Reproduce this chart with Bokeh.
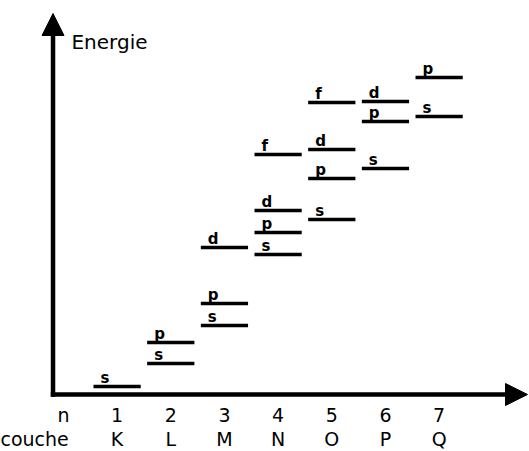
from bokeh.plotting import figure
from bokeh.models import ColumnDataSource, Arrow, NormalHead, Range1d
from bokeh.core.properties import value
from bokeh.embed import file_html
from bokeh.resources import INLINE

# ---- data -------------------------------------------------------------
level_n = [1, 2, 2, 3, 3, 3, 4, 4, 4, 4, 5, 5, 5, 5, 6, 6, 6, 7, 7]
level_l = ["s", "s", "p", "s", "p", "d", "s", "p", "d", "f",
           "s", "p", "d", "f", "s", "p", "d", "s", "p"]
level_E = [8, 31, 52, 69, 91, 147, 140, 162, 184, 240,
           175, 216, 245, 292, 226, 273, 293, 278, 317]

tick_pos = [0, 1, 2, 3, 4, 5, 6, 7]
n_labels = ["n", "1", "2", "3", "4", "5", "6", "7"]
shell_pos = [1, 2, 3, 4, 5, 6, 7]
shell_labels = ["K", "L", "M", "N", "O", "P", "Q"]

# ---- layout constants --------------------------------------------------
HALF = 0.44           # half width of a level bar (in shell units)
X0, X1 = -1.1726, 8.684
Y0, Y1 = -57, 394
AX_X = -0.194         # position of vertical axis
ROW_N = -20.3         # centre of n row
ROW_C = -44.7         # centre of couche row
FONT = "DejaVu Sans"

p = figure(width=529, height=451, output_backend="svg", toolbar_location=None,
           x_axis_type=None, y_axis_type=None,
           x_range=Range1d(X0, X1), y_range=Range1d(Y0, Y1),
           min_border=0, min_border_left=0, min_border_right=0,
           min_border_top=0, min_border_bottom=0)
p.outline_line_color = None
p.background_fill_color = "white"

src = ColumnDataSource(dict(
    x0=[n - HALF for n in level_n],
    x1=[n + HALF for n in level_n],
    y=level_E,
    lab=level_l,
))
p.segment(x0="x0", y0="y", x1="x1", y1="y", source=src,
          line_color="black", line_width=3.5, line_cap="butt")
p.text(x="x0", y="y", text="lab", source=src, x_offset=7, y_offset=-9,
       text_font=value(FONT), text_font_size="15px", text_font_style="bold",
       text_color="black", text_align="left", text_baseline="middle")

# axes as arrows
p.add_layout(Arrow(end=NormalHead(size=22, fill_color="black", line_color="black"),
                   x_start=AX_X, y_start=-2.3, x_end=AX_X, y_end=381,
                   line_color="black", line_width=4.5))
p.add_layout(Arrow(end=NormalHead(size=22, fill_color="black", line_color="black"),
                   x_start=AX_X - 0.042, y_start=0, x_end=8.647, y_end=0,
                   line_color="black", line_width=4.5))

p.text(x=[0.15], y=[352.5], text=["Energie"], text_font=value(FONT),
       text_font_size="20px", text_color="black", text_align="left",
       text_baseline="middle")

# tick label rows
p.text(x=tick_pos, y=[ROW_N] * len(tick_pos), text=n_labels, text_font=value(FONT),
       text_font_size="19px", text_color="black", text_align="center",
       text_baseline="middle")
p.text(x=shell_pos, y=[ROW_C] * len(shell_pos), text=shell_labels, text_font=value(FONT),
       text_font_size="19px", text_color="black", text_align="center",
       text_baseline="middle")
p.text(x=[X0], y=[ROW_C], text=["couche"], text_font=value(FONT),
       text_font_size="19px", text_color="black", text_align="left",
       text_baseline="middle")

open("out.html", "w").write(file_html(p, INLINE))
